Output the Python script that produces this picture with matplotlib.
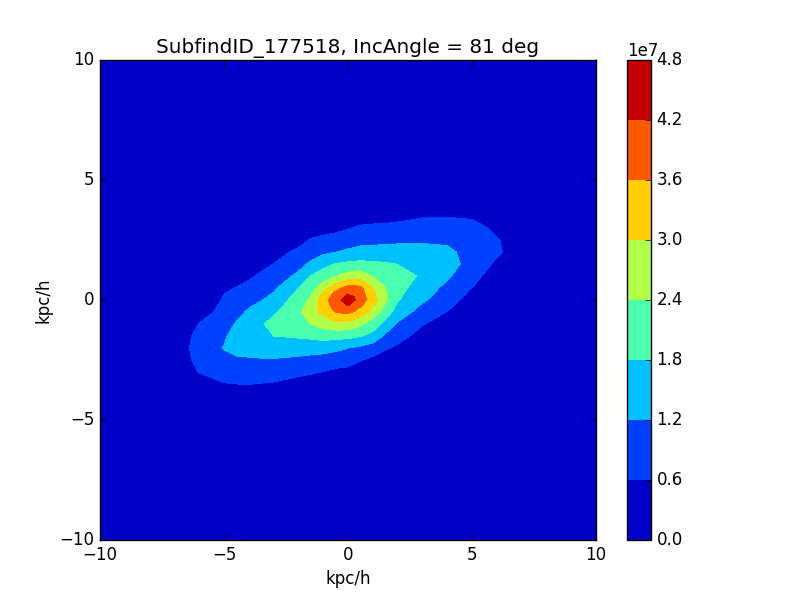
import numpy as np
import matplotlib
matplotlib.use('Agg')
import matplotlib.pyplot as plt

plt.style.use('classic')

# grid nodes in kpc/h, finer around the centre
x_kpc = [-10, -7, -6, -5, -4.5, -4, -3.5, -3, -2, -1.5, -1, -0.5, -0.25, 0, 0.25, 0.5,
         1, 1.5, 2, 3, 4, 4.5, 5, 5.5, 6, 7, 10]
y_kpc = [-10, -4, -3.5, -3, -2.5, -2, -1.5, -1, -0.5, -0.25, 0, 0.25, 0.5,
         1, 1.5, 2, 2.5, 3, 3.5, 4, 10]

# values read off the bands, in units of 1e7, bottom row first
# only the inner part, everything further out is zero
density = [
    [0, 0, .1, .15, .2, .18, .15, .1, .05, 0, 0, 0, 0, 0, 0, 0, 0, 0, 0, 0, 0, 0, 0, 0, 0],
    [0, .2, .57, .6, .61, .58, .55, .4, .3, .25, .2, .17, .15, .12, .1, .05, 0, 0, 0, 0, 0, 0, 0, 0, 0],
    [.05, .63, .84, .88, .88, .87, .85, .73, .67, .59, .48, .46, .45, .37, .3, .22, .1, .05, 0, 0, 0, 0, 0, 0, 0],
    [.05, .85, 1.10, 1.14, 1.15, 1.16, 1.16, 1.08, 1.02, .97, .88, .84, .8, .72, .63, .47, .3, .2, .05, 0, 0, 0, 0, 0, 0],
    [.05, .95, 1.22, 1.33, 1.36, 1.42, 1.48, 1.47, 1.44, 1.42, 1.33, 1.27, 1.21, 1.14, 1.07, .9, .67, .5, .25, .05, 0, 0, 0, 0, 0],
    [.05, .85, 1.13, 1.4, 1.5, 1.66, 1.8, 1.87, 1.93, 2.02, 2.0, 1.98, 1.96, 1.9, 1.84, 1.62, 1.1, .8, .4, .1, .05, 0, 0, 0, 0],
    [0, .62, .96, 1.25, 1.55, 1.75, 1.95, 2.15, 2.41, 2.63, 2.83, 2.82, 2.8, 2.67, 2.51, 2.1, 1.62, 1.13, .63, .4, .15, .05, 0, 0, 0],
    [0, .3, .82, 1.03, 1.28, 1.5, 1.72, 2.3, 2.7, 3.17, 3.62, 3.68, 3.71, 3.55, 3.37, 2.8, 2.12, 1.53, .96, .58, .4, .2, .05, 0, 0],
    [0, .2, .75, .94, 1.15, 1.33, 1.55, 2.2, 2.6, 3.3, 3.82, 4.1, 4.2, 3.9, 3.65, 3.05, 2.33, 1.69, 1.12, .71, .5, .3, .1, 0, 0],
    [0, .1, .67, .85, 1.02, 1.17, 1.39, 2.1, 2.5, 3.35, 3.93, 4.22, 4.6, 4.25, 3.93, 3.3, 2.55, 1.85, 1.29, .84, .6, .4, .15, 0, 0],
    [0, .05, .6, .74, .9, 1.05, 1.24, 1.95, 2.33, 3.11, 3.78, 4.0, 4.2, 4.15, 3.85, 3.15, 2.48, 1.93, 1.4, .95, .71, .5, .25, .05, 0],
    [0, 0, .52, .62, .77, .93, 1.09, 1.79, 2.15, 2.7, 3.37, 3.62, 3.8, 3.8, 3.74, 2.99, 2.41, 2.0, 1.5, 1.05, .82, .6, .35, .1, 0],
    [0, 0, .3, .35, .5, .7, .85, 1.33, 1.81, 2.1, 2.37, 2.5, 2.64, 2.7, 2.75, 2.37, 2.12, 2.05, 1.72, 1.28, 1.05, .8, .55, .3, 0],
    [0, 0, .1, .15, .25, .42, .61, 1.0, 1.3, 1.6, 1.83, 1.87, 1.91, 1.93, 1.95, 1.9, 1.86, 1.79, 1.65, 1.45, 1.21, .95, .75, .5, .1],
    [0, 0, 0, 0, .05, .15, .4, .71, .95, 1.09, 1.19, 1.24, 1.3, 1.35, 1.4, 1.41, 1.43, 1.43, 1.4, 1.33, 1.15, .95, .85, .68, .33],
    [0, 0, 0, 0, 0, 0, .15, .4, .65, .73, .81, .86, .91, .95, 1.0, 1.04, 1.05, 1.09, 1.12, 1.09, .98, .85, .78, .65, .25],
    [0, 0, 0, 0, 0, 0, 0, .2, .3, .4, .45, .51, .57, .63, .69, .75, .75, .8, .85, .83, .77, .72, .65, .45, .1],
    [0, 0, 0, 0, 0, 0, 0, 0, .1, .15, .15, .17, .2, .25, .3, .3, .35, .4, .55, .57, .56, .55, .33, .15, 0],
    [0, 0, 0, 0, 0, 0, 0, 0, 0, 0, 0, 0, 0, 0, 0, 0, 0, 0, .1, .1, .1, .1, .03, 0, 0],
]
levels = [0, 0.6, 1.2, 1.8, 2.4, 3.0, 3.6, 4.2, 4.8]

Z = np.pad(np.array(density), 1) * 1e7
lev = np.array(levels) * 1e7

fig, ax = plt.subplots(figsize=(8, 6), dpi=100)
cf = ax.contourf(x_kpc, y_kpc, Z, levels=lev, cmap='jet')
cbar = fig.colorbar(cf)
# the 1e7 sits at the left edge of the bar
offset = cbar.ax.yaxis.get_offset_text()
offset.set_x(0)
offset.set_ha('left')

ax.set_xlim(-10, 10)
ax.set_ylim(-10, 10)
ax.set_xticks([-10, -5, 0, 5, 10])
ax.set_yticks([-10, -5, 0, 5, 10])
ax.set_xlabel('kpc/h')
ax.set_ylabel('kpc/h')
ax.set_title('SubfindID_177518, IncAngle = 81 deg')

fig.savefig('out.png', dpi=100)
